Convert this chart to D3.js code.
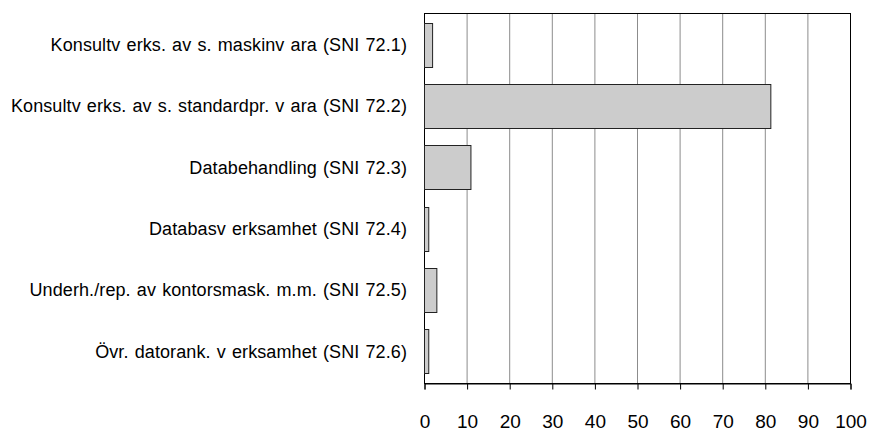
<!DOCTYPE html>
<html>
<head>
<meta charset="utf-8">
<script src="https://cdn.jsdelivr.net/npm/d3@7"></script>
<style>
  body { margin: 0; background: #fff; }
  text { font-family: "Liberation Sans", Arial, sans-serif; fill: #000; }
</style>
</head>
<body>
<div id="chart"></div>
<script>
// data
const categories = [
  "Konsultv erks. av s. maskinv ara (SNI 72.1)",
  "Konsultv erks. av s. standardpr. v ara (SNI 72.2)",
  "Databehandling (SNI 72.3)",
  "Databasv erksamhet (SNI 72.4)",
  "Underh./rep. av kontorsmask. m.m. (SNI 72.5)",
  "Övr. datorank. v erksamhet (SNI 72.6)"
];
const values = [1.9, 81.3, 10.9, 1.0, 2.9, 1.0];
const xTicks = [0, 10, 20, 30, 40, 50, 60, 70, 80, 90, 100];

const margin = { top: 13, right: 19, bottom: 49, left: 424 };
const width = 869 - margin.left - margin.right;
const height = 432 - margin.top - margin.bottom;

const svg = d3.select("#chart")
    .append("svg")
    .attr("width", width + margin.left + margin.right)
    .attr("height", height + margin.top + margin.bottom)
    .append("g")
    .attr("transform", `translate(${margin.left},${margin.top})`);

const xScale = d3.scaleLinear()
    .domain([0, 100])
    .range([0, width]);

const yScale = d3.scaleBand()
    .domain(categories)
    .range([0, height])
    .paddingInner(0.286)
    .paddingOuter(0.16);

// gridlines
svg.selectAll(".grid")
    .data(xTicks.slice(1, -1))
    .enter()
    .append("line")
    .attr("class", "grid")
    .attr("x1", d => xScale(d) + 0.5)
    .attr("x2", d => xScale(d) + 0.5)
    .attr("y1", 0)
    .attr("y2", height)
    .style("stroke", "#8c8c8c")
    .style("stroke-width", 1);

// frame
svg.append("rect")
    .attr("x", 0.5)
    .attr("y", 0.5)
    .attr("width", width)
    .attr("height", height)
    .style("fill", "none")
    .style("stroke", "#000")
    .style("stroke-width", 1);

// bars
svg.selectAll(".bar")
    .data(values)
    .enter()
    .append("rect")
    .attr("class", "bar")
    .attr("x", 0.5)
    .attr("y", (d, i) => Math.round(yScale(categories[i])) + 0.5)
    .attr("width", d => xScale(d))
    .attr("height", Math.round(yScale.bandwidth()))
    .style("fill", "#cccccc")
    .style("stroke", "#222")
    .style("stroke-width", 1);

// x axis
const xAxis = svg.append("g")
    .attr("transform", `translate(0.5,${height + 0.5})`)
    .call(d3.axisBottom(xScale)
        .tickValues(xTicks)
        .tickSize(6)
        .tickPadding(25));
xAxis.select(".domain").style("stroke", "#000");
xAxis.selectAll(".tick line").style("stroke", "#000");
xAxis.selectAll("text")
    .style("font-size", "19px")
    .style("font-family", "\"Liberation Sans\", Arial, sans-serif")
    .attr("fill", "#000");

// category labels
svg.selectAll(".cat-label")
    .data(categories)
    .enter()
    .append("text")
    .attr("class", "cat-label")
    .attr("x", -17)
    .attr("y", d => yScale(d) + yScale.bandwidth() / 2)
    .attr("dy", "0.35em")
    .attr("text-anchor", "end")
    .style("font-size", "18px")
    .style("letter-spacing", "0.1px")
    .style("word-spacing", "1px")
    .text(d => d);
</script>
</body>
</html>
